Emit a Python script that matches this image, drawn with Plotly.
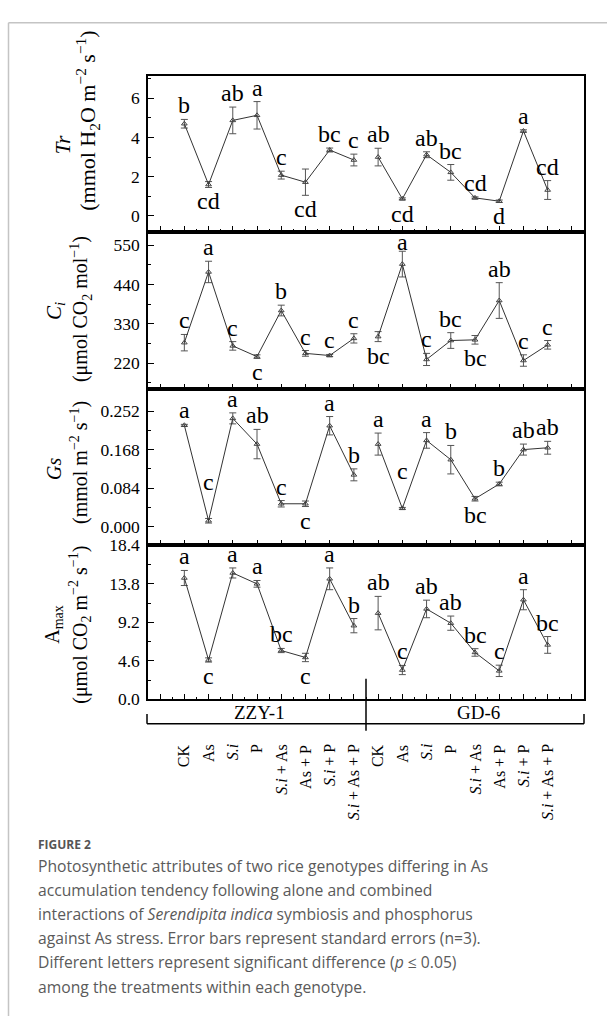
import plotly.graph_objects as go

# ---------------- data ----------------
treatments = ["CK", "As", "<i>S.i</i>", "P", "<i>S.i</i> + As", "As + P",
              "<i>S.i</i> + P", "<i>S.i</i> + As + P"]
genotypes = ["ZZY-1", "GD-6"]

tr_mean = [4.7, 1.6, 4.87, 5.13, 2.08, 1.72, 3.36, 2.85,
           3.0, 0.87, 3.12, 2.22, 0.92, 0.75, 4.33, 1.32]
tr_se = [0.22, 0.15, 0.68, 0.7, 0.2, 0.67, 0.1, 0.3,
         0.45, 0.05, 0.15, 0.4, 0.05, 0.06, 0.06, 0.48]
tr_letters = ["b", "cd", "ab", "a", "c", "cd", "bc", "c",
              "ab", "cd", "ab", "bc", "cd", "d", "a", "cd"]
tr_side = ["u", "d", "u", "u", "u", "d", "u", "u",
           "u", "d", "u", "u", "u", "d", "u", "u"]

ci_mean = [277, 475, 268, 238, 367, 247, 241, 289,
           294, 497, 230, 283, 285, 395, 227, 271]
ci_se = [23, 30, 12, 5, 15, 8, 3, 13,
         14, 36, 17, 22, 12, 50, 16, 12]
ci_letters = ["c", "a", "c", "c", "b", "c", "c", "c",
              "bc", "a", "c", "bc", "bc", "ab", "c", "c"]
ci_side = ["u", "u", "u", "d", "u", "u", "u", "u",
           "d", "t", "u", "u", "d", "u", "u", "u"]

gs_mean = [0.221, 0.013, 0.236, 0.18, 0.05, 0.05, 0.22, 0.113,
           0.18, 0.04, 0.188, 0.146, 0.061, 0.093, 0.168, 0.172]
gs_se = [0.002, 0.005, 0.012, 0.032, 0.007, 0.006, 0.02, 0.013,
         0.024, 0.002, 0.017, 0.031, 0.005, 0.004, 0.012, 0.014]
gs_letters = ["a", "c", "a", "ab", "c", "c", "a", "b",
              "a", "c", "a", "b", "bc", "b", "ab", "ab"]
gs_side = ["u", "h", "u", "u", "u", "d", "u", "u",
           "u", "h", "u", "u", "d", "u", "u", "u"]

am_mean = [14.5, 4.7, 15.1, 13.8, 5.83, 5.0, 14.4, 8.8,
           10.3, 3.5, 10.8, 9.1, 5.6, 3.4, 11.9, 6.5]
am_se = [0.9, 0.25, 0.6, 0.4, 0.25, 0.5, 1.3, 0.85,
         2.0, 0.55, 1.05, 0.85, 0.45, 0.68, 1.2, 1.0]
am_letters = ["a", "c", "a", "a", "bc", "c", "a", "b",
              "ab", "c", "ab", "ab", "bc", "c", "a", "bc"]
am_side = ["u", "d", "u", "u", "u", "d", "u", "u",
           "u", "u", "u", "u", "u", "u", "u", "u"]

tr_ticks = [0, 2, 4, 6]
ci_ticks = [220, 330, 440, 550]
gs_ticks = [0.000, 0.084, 0.168, 0.252]
am_ticks = [0.0, 4.6, 9.2, 13.8, 18.4]

title_l1 = ["<i>Tr</i>", "<i>C<sub>i</sub></i>", "<i>Gs</i>", "A<sub>max</sub>"]
title_l2 = ["(mmol H<sub>2</sub>O m<sup>−2</sup> s<sup>−1</sup>)",
            "(μmol CO<sub>2</sub> mol<sup>−1</sup>)",
            "(mmol m<sup>−2</sup> s<sup>−1</sup>)",
            "(μmol CO<sub>2</sub> m<sup>−2</sup> s<sup>−1</sup>)"]

caption_head = "FIGURE 2"
caption_lines = [
    "Photosynthetic attributes of two rice genotypes differing in As",
    "accumulation tendency following alone and combined",
    "interactions of <i>Serendipita indica</i> symbiosis and phosphorus",
    "against As stress. Error bars represent standard errors (n=3).",
    "Different letters represent significant difference (<i>p</i> ≤ 0.05)",
    "among the treatments within each genotype.",
]

# ---------------- layout helpers ----------------
W, H = 607, 1026
def px(x):
    return x / W
def py(y):
    return 1 - y / H

SERIF = "Liberation Serif"
x_pos = list(range(16))
panel_px = [(67, 226), (226, 387), (387, 546), (546, 703)]
x_dom = [px(148), px(584)]
y_ranges = [[-0.8, 7.15], [146, 588], [-0.0406, 0.299], [0, 18.4]]

panels = [
    (tr_mean, tr_se, tr_letters, tr_side, tr_ticks, [str(v) for v in tr_ticks], [1, 3, 5, 7]),
    (ci_mean, ci_se, ci_letters, ci_side, ci_ticks, [str(v) for v in ci_ticks], [165, 275, 385, 495]),
    (gs_mean, gs_se, gs_letters, gs_side, gs_ticks, [f"{v:.3f}" for v in gs_ticks], [0.042, 0.126, 0.21]),
    (am_mean, am_se, am_letters, am_side, am_ticks, [f"{v:.1f}" for v in am_ticks], [2.3, 6.9, 11.5, 16.1]),
]
# title placement (pixel centres) and sizes
title_x1 = [63, 55, 54, 54]
title_x2 = [88, 81, 80, 80]
title_y1 = [137, 307, 468, 627]
title_y2 = [113, 305, 462, 627]
title_fs1 = [21, 21, 20, 20]
title_fs2 = [22, 20, 20, 20]

fig = go.Figure()
annotations = []
shapes = []

for k, (mean, se, letters, side, tv, tt, minor_vals) in enumerate(panels):
    n = "" if k == 0 else str(k + 1)
    xa, ya = "x" + n, "y" + n
    for g in range(2):
        sl = slice(g * 8, g * 8 + 8)
        fig.add_trace(go.Scatter(
            x=x_pos[sl], y=mean[sl], xaxis=xa, yaxis=ya,
            mode="lines+markers",
            line=dict(color="#333333", width=1),
            marker=dict(symbol="triangle-up-open", size=5, color="#444444",
                        line=dict(width=1)),
            error_y=dict(type="data", array=se[sl], visible=True,
                         color="#555555", thickness=1, width=3.5),
            showlegend=False, hoverinfo="skip",
        ))
    for i in range(16):
        s = side[i]
        if s == "d":
            yv, anchor, shift = mean[i] - se[i], "top", 0
        elif s == "h":
            yv, anchor, shift = mean[i] + se[i], "bottom", 22
        elif s == "t":
            yv, anchor, shift = mean[i] + se[i], "bottom", -5
        else:
            yv, anchor, shift = mean[i] + se[i], "bottom", 0
        annotations.append(dict(
            x=x_pos[i], y=yv, xref=xa, yref=ya, text=letters[i],
            showarrow=False, xanchor="center", yanchor=anchor, yshift=shift,
            borderpad=0,
            font=dict(family=SERIF, size=24, color="black")))
    top, bot = panel_px[k]
    dom = [py(bot), py(top)]
    fig.update_layout(**{
        ("xaxis" + n): dict(
            domain=x_dom, range=[-1.5, 16.5], anchor=ya,
            showline=True, linecolor="black", linewidth=1.5, mirror=True,
            ticks="inside", ticklen=6, tickcolor="black", tickwidth=1,
            tickmode="linear", tick0=0, dtick=1, showticklabels=False,
            minor=dict(tickmode="linear", tick0=0.5, dtick=1, ticks="inside",
                       ticklen=3, tickcolor="black"),
            showgrid=False, zeroline=False, fixedrange=True),
        ("yaxis" + n): dict(
            domain=dom, range=y_ranges[k], anchor=xa,
            showline=True, linecolor="black", linewidth=1.5, mirror=True,
            ticks="inside", ticklen=6, tickcolor="black", tickwidth=1,
            tickmode="array", tickvals=tv, ticktext=tt,
            minor=dict(tickmode="array", tickvals=minor_vals, ticks="inside",
                       ticklen=3, tickcolor="black"),
            tickfont=dict(family=SERIF, size=17.5, color="black"),
            ticklabelstandoff=3,
            showgrid=False, zeroline=False, fixedrange=True),
    })
    annotations.append(dict(x=px(title_x1[k]), y=py(title_y1[k]), xref="paper", yref="paper",
                            text=title_l1[k], textangle=-90, showarrow=False,
                            xanchor="center", yanchor="middle",
                            font=dict(family=SERIF, size=title_fs1[k], color="black")))
    annotations.append(dict(x=px(title_x2[k]), y=py(title_y2[k]), xref="paper", yref="paper",
                            text=title_l2[k], textangle=-90, showarrow=False,
                            xanchor="center", yanchor="middle",
                            font=dict(family=SERIF, size=title_fs2[k], color="black")))

# category labels
for i in range(16):
    annotations.append(dict(x=x_pos[i], y=py(747), xref="x4", yref="paper",
                            text=treatments[i % 8], textangle=-90, showarrow=False,
                            xanchor="center", yanchor="top",
                            font=dict(family=SERIF, size=16, color="black")))
# genotype labels
geno_x = [259, 478]
for g, name in enumerate(genotypes):
    annotations.append(dict(x=px(geno_x[g]), y=py(716), xref="paper", yref="paper",
                            text=name, showarrow=False, xanchor="center",
                            yanchor="middle",
                            font=dict(family=SERIF, size=19, color="black")))

# bracket + divider
bx0, bx1 = px(147), px(584)
shapes += [
    dict(type="line", xref="paper", yref="paper", x0=bx0, x1=bx1,
         y0=py(728), y1=py(728), line=dict(color="black", width=1.5)),
    dict(type="line", xref="paper", yref="paper", x0=bx0, x1=bx0,
         y0=py(718), y1=py(728), line=dict(color="black", width=1.5)),
    dict(type="line", xref="paper", yref="paper", x0=bx1, x1=bx1,
         y0=py(718), y1=py(728), line=dict(color="black", width=1.5)),
    dict(type="line", xref="x4", yref="paper", x0=7.5, x1=7.5,
         y0=py(682), y1=py(735), line=dict(color="black", width=1.5)),
    # outer frame
    dict(type="line", xref="paper", yref="paper", x0=px(8.5), x1=1,
         y0=py(13), y1=py(13), line=dict(color="#c4c4c4", width=1.5)),
    dict(type="line", xref="paper", yref="paper", x0=px(8.5), x1=px(8.5),
         y0=py(13), y1=0, line=dict(color="#c4c4c4", width=1.5)),
]

# caption
annotations.append(dict(x=px(36), y=py(851), xref="paper", yref="paper",
                        text="<b>" + caption_head + "</b>", showarrow=False,
                        xanchor="left", yanchor="middle",
                        font=dict(family="Open Sans", size=12, color="#555555")))
for j, line in enumerate(caption_lines):
    annotations.append(dict(x=px(36), y=py(873 + 24.6 * j), xref="paper", yref="paper",
                            text=line, showarrow=False, xanchor="left",
                            yanchor="middle",
                            font=dict(family="Open Sans", size=15.7, color="#5a5a5a")))

fig.update_layout(
    width=W, height=H, margin=dict(l=0, r=0, t=0, b=0),
    paper_bgcolor="white", plot_bgcolor="white",
    annotations=annotations, shapes=shapes, showlegend=False,
)

fig.write_html("out.html")
